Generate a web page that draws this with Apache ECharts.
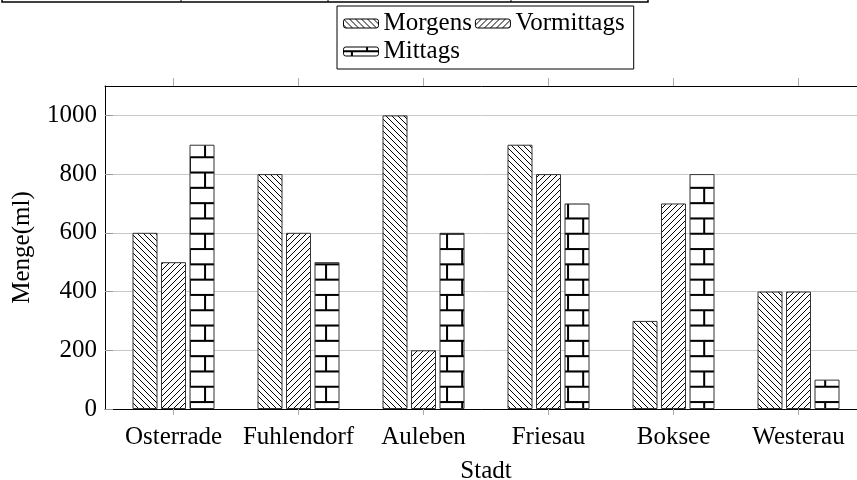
<!DOCTYPE html>
<html>
<head>
<meta charset="utf-8">
<title>Menge pro Stadt</title>
<script src="https://cdn.jsdelivr.net/npm/echarts@6/dist/echarts.min.js"></script>
<style>
  html, body { margin: 0; padding: 0; background: #fff; }
  #chart { width: 857px; height: 480px; }
</style>
</head>
<body>
<div id="chart"></div>
<script>
// Daten
var staedte = ['Osterrade', 'Fuhlendorf', 'Auleben', 'Friesau', 'Boksee', 'Westerau'];
var morgens = [600, 800, 1000, 900, 300, 400];
var vormittags = [500, 600, 200, 800, 700, 400];
var mittags = [900, 500, 600, 700, 800, 100];
var yTicks = [0, 200, 400, 600, 800, 1000];
var xTicks = staedte.map(function (s, i) { return i; });

var schrift = 'Liberation Serif';

// Muster als kleine Canvas-Kacheln
function kachel(w, h, zeichnen, extra) {
    var c = document.createElement('canvas');
    c.width = w;
    c.height = h;
    var ctx = c.getContext('2d');
    ctx.fillStyle = '#fff';
    ctx.fillRect(0, 0, w, h);
    ctx.strokeStyle = '#000';
    zeichnen(ctx);
    return Object.assign({ image: c, repeat: 'repeat' }, extra || {});
}

// \\\ Linien
var musterNW = kachel(6, 6, function (ctx) {
    ctx.lineWidth = 1;
    ctx.beginPath();
    ctx.moveTo(-1, -1); ctx.lineTo(7, 7);
    ctx.moveTo(-1, 5); ctx.lineTo(1, 7);
    ctx.moveTo(5, -1); ctx.lineTo(7, 1);
    ctx.stroke();
});

// /// Linien
var musterNO = kachel(6, 6, function (ctx) {
    ctx.lineWidth = 1;
    ctx.beginPath();
    ctx.moveTo(-1, 7); ctx.lineTo(7, -1);
    ctx.moveTo(-1, 1); ctx.lineTo(1, -1);
    ctx.moveTo(5, 7); ctx.lineTo(7, 5);
    ctx.stroke();
});

// Ziegel (leicht gestreckt wie im Original)
var musterZiegel = kachel(30, 30, function (ctx) {
    ctx.lineWidth = 2;
    ctx.beginPath();
    ctx.moveTo(0, 1); ctx.lineTo(30, 1);
    ctx.moveTo(0, 16); ctx.lineTo(30, 16);
    ctx.moveTo(1, 1); ctx.lineTo(1, 16);
    ctx.moveTo(16, 16); ctx.lineTo(16, 30);
    ctx.moveTo(16, 0); ctx.lineTo(16, 1);
    ctx.stroke();
}, { x: 22.5, y: 18.5, scaleX: 30.25 / 30, scaleY: 30.6 / 30 });

function paare(werte) {
    return werte.map(function (v, i) { return [i, v]; });
}

var chart = echarts.init(document.getElementById('chart'));

var balken = {
    type: 'bar',
    barWidth: 25,
    barGap: '14%'
};

var option = {
    animation: false,
    textStyle: { fontFamily: schrift },
    grid: { left: 105, top: 86, right: -10, bottom: 71, outerBoundsMode: 'none', containLabel: false },
    legend: {
        data: ['Morgens', 'Vormittags', 'Mittags'],
        left: 337,
        top: 6,
        width: 285,
        itemWidth: 35,
        itemHeight: 9,
        itemGap: 3,
        padding: [5, 9, 5, 6],
        borderColor: '#000',
        borderWidth: 1,
        backgroundColor: '#fff',
        itemStyle: { borderColor: '#000', borderWidth: 1 },
        textStyle: { fontFamily: schrift, fontSize: 25, color: '#000' }
    },
    xAxis: [{
        type: 'value',
        min: -0.548,
        max: 5.548,
        name: 'Stadt',
        nameLocation: 'middle',
        nameGap: 50,
        nameTextStyle: { fontFamily: schrift, fontSize: 25, color: '#000' },
        splitLine: { show: false },
        axisLine: { onZero: false, lineStyle: { color: '#000', width: 1 } },
        axisTick: { customValues: xTicks, length: 6, lineStyle: { color: '#aaa' } },
        axisLabel: {
            customValues: xTicks,
            margin: 16,
            fontFamily: schrift,
            fontSize: 25,
            color: '#000',
            formatter: function (v) { return staedte[Math.round(v)]; }
        }
    }, {
        // obere Achse nur mit Strichen
        type: 'value',
        position: 'top',
        min: -0.548,
        max: 5.548,
        splitLine: { show: false },
        axisLine: { onZero: false, lineStyle: { color: '#000', width: 1 } },
        axisTick: { customValues: xTicks, length: 8, lineStyle: { color: '#aaa' } },
        axisLabel: { show: false }
    }],
    yAxis: {
        type: 'value',
        min: 0,
        max: 1100,
        interval: 200,
        name: 'Menge(ml)',
        nameLocation: 'middle',
        nameGap: 70,
        nameTextStyle: { fontFamily: schrift, fontSize: 25, color: '#000' },
        axisLine: { show: true, onZero: false, lineStyle: { color: '#000', width: 1 } },
        axisTick: { show: true, inside: true, length: 8, customValues: yTicks, lineStyle: { color: '#999' } },
        axisLabel: {
            customValues: yTicks,
            margin: 8,
            fontFamily: schrift,
            fontSize: 25,
            color: '#000',
            formatter: function (v) { return String(v); }
        },
        splitLine: { lineStyle: { color: '#c8c8c8', width: 1 } }
    },
    series: [
        Object.assign({}, balken, { name: 'Morgens', data: paare(morgens), itemStyle: { color: musterNW, borderColor: '#333', borderWidth: 1 } }),
        Object.assign({}, balken, { name: 'Vormittags', data: paare(vormittags), itemStyle: { color: musterNO, borderColor: '#333', borderWidth: 1 } }),
        Object.assign({}, balken, { name: 'Mittags', data: paare(mittags), itemStyle: { color: musterZiegel, borderColor: '#333', borderWidth: 1 } })
    ],
    // Rest der Tabelle am oberen Rand
    graphic: [
        { type: 'polyline', shape: { points: [[2, 0], [2, 2], [648, 2], [648, 0]] }, style: { stroke: '#000', lineWidth: 1.5, fill: null } },
        { type: 'line', shape: { x1: 181, y1: 0, x2: 181, y2: 2 }, style: { stroke: '#000', lineWidth: 1 } },
        { type: 'line', shape: { x1: 328, y1: 0, x2: 328, y2: 2 }, style: { stroke: '#000', lineWidth: 1 } },
        { type: 'line', shape: { x1: 511, y1: 0, x2: 511, y2: 2 }, style: { stroke: '#000', lineWidth: 1 } }
    ]
};

chart.setOption(option);
</script>
</body>
</html>
